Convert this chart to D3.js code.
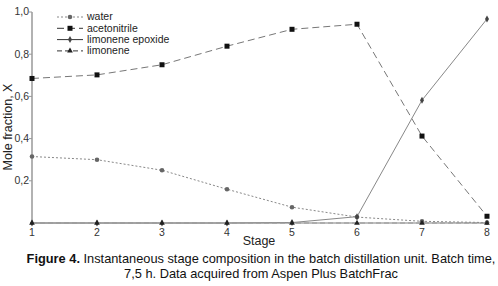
<!DOCTYPE html>
<html>
<head>
<meta charset="utf-8">
<script src="https://cdn.jsdelivr.net/npm/d3@7"></script>
<style>
  body { margin: 0; background: #fff; }
  svg { display: block; font-family: "Liberation Sans", Arial, sans-serif; }
</style>
</head>
<body>
<svg width="498" height="286"></svg>
<script>
var stages = [1, 2, 3, 4, 5, 6, 7, 8];
var water = [0.315, 0.300, 0.250, 0.160, 0.075, 0.028, 0.008, 0.002];
var acetonitrile = [0.685, 0.702, 0.750, 0.838, 0.918, 0.942, 0.412, 0.032];
var limoneneEpoxide = [0, 0, 0, 0, 0.002, 0.030, 0.582, 0.967];
var limonene = [0, 0, 0, 0, 0, 0, 0, 0];
var yTicks = [0.2, 0.4, 0.6, 0.8, 1.0];

function main() {
  var svg = d3.select("svg"),
      margin = {top: 12, left: 32, right: 10, bottom: 63},
      width = 487 - margin.left,
      height = 223 - margin.top,
      g = svg.append("g").attr("transform", "translate(" + margin.left + "," + margin.top + ")");

  var x = d3.scaleLinear().domain([1, 8]).range([0, width]);
  var y = d3.scaleLinear().domain([0, 1]).range([height, 0]);

  var series = [
    {name: "water", values: water, stroke: "#888", dash: "2,2", marker: "circle", mfill: "#666"},
    {name: "acetonitrile", values: acetonitrile, stroke: "#777", dash: "7,4", marker: "square", mfill: "#111"},
    {name: "limonene epoxide", values: limoneneEpoxide, stroke: "#888", dash: null, marker: "diamond", mfill: "#444"},
    {name: "limonene", values: limonene, stroke: "#999", dash: "5,3", marker: "triangle", mfill: "#222"}
  ];

  // axes
  g.append("line").attr("x1", 0).attr("x2", 0).attr("y1", 0).attr("y2", height)
    .attr("stroke", "#999").attr("stroke-width", 1.5);
  g.append("line").attr("x1", 0).attr("x2", width).attr("y1", height).attr("y2", height)
    .attr("stroke", "#aaa").attr("stroke-width", 1.5);

  g.selectAll(".ytick").data(yTicks).enter().append("line")
    .attr("x1", -3).attr("x2", 0)
    .attr("y1", function(d) { return y(d); }).attr("y2", function(d) { return y(d); })
    .attr("stroke", "#999");

  g.selectAll(".ylab").data(yTicks).enter().append("text")
    .attr("x", -3).attr("y", function(d) { return y(d); })
    .attr("dy", "0.32em").attr("text-anchor", "end")
    .attr("font-size", 10.5).attr("fill", "#333")
    .text(function(d) { return d3.format(".1f")(d).replace(".", ","); });

  g.selectAll(".xlab").data(stages).enter().append("text")
    .attr("x", function(d) { return x(d); }).attr("y", height + 13)
    .attr("text-anchor", "middle").attr("font-size", 10.5).attr("fill", "#333")
    .text(function(d) { return d; });

  svg.append("text").attr("transform", "translate(12,127) rotate(-90)")
    .attr("text-anchor", "middle").attr("font-size", 12.5).attr("fill", "#222")
    .text("Mole fraction, X");

  svg.append("text").attr("x", 259).attr("y", 245)
    .attr("text-anchor", "middle").attr("font-size", 12.5).attr("fill", "#222")
    .text("Stage");

  var line = d3.line().x(function(d, i) { return x(stages[i]); }).y(function(d) { return y(d); });

  function marker(sel, type, fill) {
    if (type === "circle") sel.append("circle").attr("r", 2.3).attr("fill", fill);
    else if (type === "square") sel.append("rect").attr("x", -2.5).attr("y", -2.5).attr("width", 5).attr("height", 5).attr("fill", fill);
    else if (type === "diamond") sel.append("path").attr("d", d3.symbol(d3.symbolDiamond, 14)).attr("fill", fill);
    else sel.append("path").attr("d", d3.symbol(d3.symbolTriangle, 14)).attr("fill", fill);
  }

  series.forEach(function(s) {
    g.append("path").datum(s.values).attr("d", line)
      .attr("fill", "none").attr("stroke", s.stroke).attr("stroke-width", 1)
      .attr("stroke-dasharray", s.dash);
    s.values.forEach(function(v, i) {
      var m = g.append("g").attr("transform", "translate(" + x(stages[i]) + "," + y(v) + ")");
      marker(m, s.marker, s.mfill);
    });
  });

  // legend
  var legend = svg.append("g").attr("font-size", 10.5).attr("fill", "#222")
    .selectAll("g").data(series).enter().append("g")
    .attr("transform", function(d, i) { return "translate(57," + (17 + i * 11.3) + ")"; });
  legend.append("line").attr("x1", 0).attr("x2", 26).attr("y1", 0).attr("y2", 0)
    .attr("stroke", function(d) { return d.name === "water" ? "#888" : "#333"; })
    .attr("stroke-dasharray", function(d) { return d.dash; });
  legend.each(function(d) {
    var m = d3.select(this).append("g").attr("transform", "translate(13,0)");
    marker(m, d.marker, d.mfill);
  });
  legend.append("text").attr("x", 30).attr("dy", "0.32em").text(function(d) { return d.name; });

  // caption
  var cap = svg.append("text").attr("text-anchor", "middle").attr("font-size", 12.8).attr("fill", "#111");
  var t1 = cap.append("tspan").attr("x", 261).attr("y", 263);
  t1.append("tspan").attr("font-weight", "bold").text("Figure 4.");
  t1.append("tspan").text(" Instantaneous stage composition in the batch distillation unit. Batch time,");
  cap.append("tspan").attr("x", 261).attr("y", 278).text("7,5 h. Data acquired from Aspen Plus BatchFrac");
}
main();
</script>
</body>
</html>
